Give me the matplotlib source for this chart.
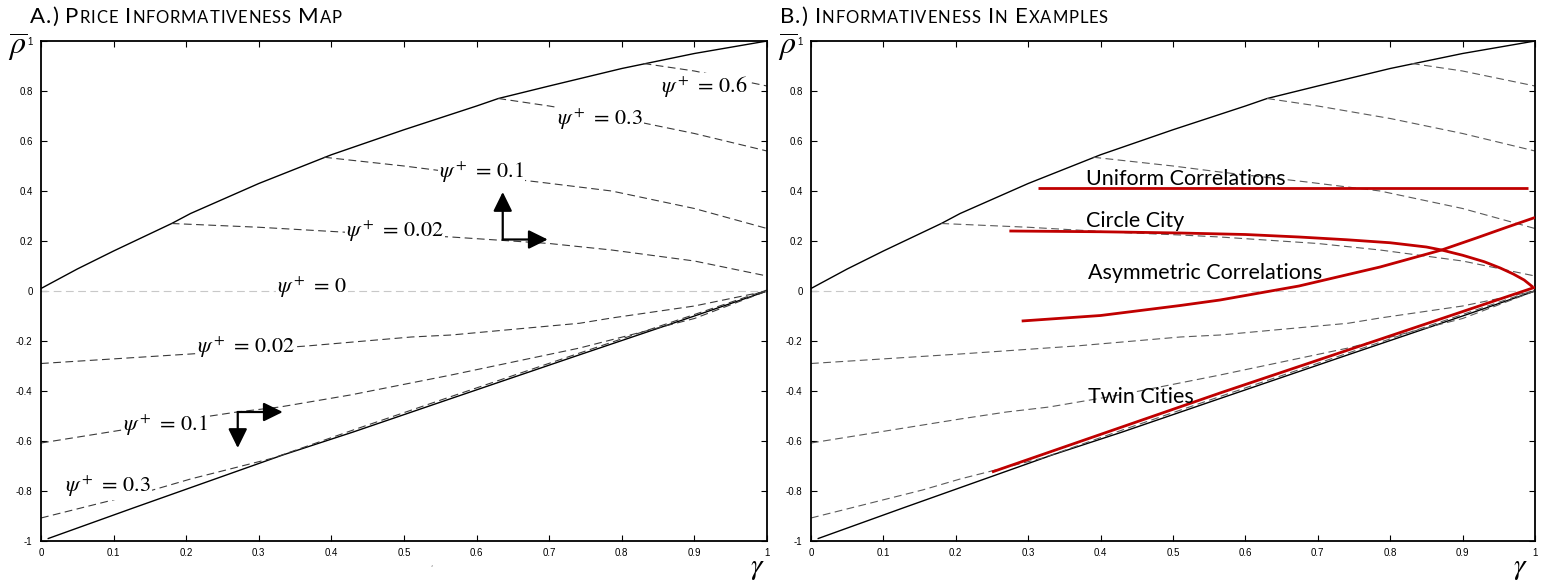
import matplotlib
matplotlib.use('Agg')
import matplotlib.pyplot as plt
from matplotlib.offsetbox import TextArea, HPacker, AnchoredOffsetbox
from matplotlib.patches import FancyArrowPatch

plt.rcParams['mathtext.fontset'] = 'stix'
plt.rcParams['axes.unicode_minus'] = False

# ---------------- data ----------------
# boundary curves (solid)
upper_x = [0.0, 0.05, 0.1, 0.18, 0.206, 0.3, 0.4, 0.5, 0.6, 0.63, 0.7, 0.8, 0.9, 1.0]
upper_y = [0.01, 0.088, 0.16, 0.27, 0.31, 0.43, 0.545, 0.645, 0.74, 0.77, 0.82, 0.89, 0.95, 1.0]
lower_x = [0.01, 0.127, 0.333, 0.43, 0.565, 0.742, 0.9, 1.0]
lower_y = [-0.99, -0.868, -0.656, -0.564, -0.43, -0.255, -0.1, 0.0]

# psi+ contours above zero (dashed)
c002u_x = [0.18, 0.3, 0.42, 0.51, 0.565, 0.7, 0.786, 0.9, 1.0]
c002u_y = [0.27, 0.255, 0.235, 0.224, 0.216, 0.19, 0.164, 0.12, 0.06]
c01u_x = [0.39, 0.5, 0.565, 0.685, 0.786, 0.9, 1.0]
c01u_y = [0.535, 0.5, 0.476, 0.436, 0.4, 0.33, 0.25]
c03u_x = [0.63, 0.7, 0.8, 0.9, 1.0]
c03u_y = [0.77, 0.74, 0.69, 0.63, 0.56]
c06u_x = [0.83, 0.9, 1.0]
c06u_y = [0.91, 0.88, 0.82]
# psi+ contours below zero (dashed)
c002l_x = [0.0, 0.206, 0.366, 0.51, 0.565, 0.742, 0.786, 0.9, 1.0]
c002l_y = [-0.29, -0.252, -0.22, -0.184, -0.176, -0.129, -0.108, -0.06, 0.0]
c01l_x = [0.0, 0.206, 0.27, 0.329, 0.426, 0.565, 0.742, 0.9, 1.0]
c01l_y = [-0.608, -0.512, -0.484, -0.464, -0.416, -0.336, -0.228, -0.11, 0.0]
c03l_x = [0.0, 0.154, 0.206, 0.32, 0.43, 0.565, 0.742, 0.9, 1.0]
c03l_y = [-0.908, -0.796, -0.752, -0.668, -0.556, -0.422, -0.248, -0.094, 0.004]
zero_x = [0.0, 1.0]
zero_y = [0.0, 0.0]

# contour labels (panel A)
label_texts = [r'$\psi^+\,=\,0.6$', r'$\psi^+\,=\,0.3$', r'$\psi^+\,=\,0.1$', r'$\psi^+\,=\,0.02$',
               r'$\psi^+\,=\,0$', r'$\psi^+\,=\,0.02$', r'$\psi^+\,=\,0.1$', r'$\psi^+\,=\,0.3$']
label_x = [0.854, 0.711, 0.548, 0.42, 0.325, 0.215, 0.113, 0.033]
label_y = [0.792, 0.664, 0.452, 0.216, -0.008, -0.248, -0.56, -0.804]

# direction arrows (panel A): corner, tip1, tip2
arrow_corner = [(0.636, 0.206), (0.271, -0.484)]
arrow_tip1 = [(0.636, 0.396), (0.333, -0.484)]
arrow_tip2 = [(0.698, 0.206), (0.271, -0.628)]

# examples (panel B, red)
uniform_x = [0.314, 0.99]
uniform_y = [0.412, 0.412]
circle_x = [0.274, 0.4, 0.51, 0.6, 0.674, 0.74, 0.8, 0.85, 0.871, 0.9, 0.93, 0.952, 0.97, 0.985, 0.997]
circle_y = [0.24, 0.237, 0.232, 0.226, 0.216, 0.205, 0.193, 0.176, 0.164, 0.143, 0.117, 0.092, 0.068, 0.044, 0.016]
asym_x = [0.291, 0.4, 0.51, 0.565, 0.674, 0.786, 0.871, 0.92, 0.96, 1.0]
asym_y = [-0.12, -0.098, -0.058, -0.036, 0.02, 0.096, 0.164, 0.213, 0.254, 0.294]
twin_x = [0.25, 0.565, 1.0]
twin_y = [-0.724, -0.408, 0.015]

example_names = ['Uniform Correlations', 'Circle City', 'Asymmetric Correlations', 'Twin Cities']
example_label_x = [0.38, 0.38, 0.382, 0.383]
example_label_y = [0.424, 0.256, 0.048, -0.448]

xticks = [0, 0.1, 0.2, 0.3, 0.4, 0.5, 0.6, 0.7, 0.8, 0.9, 1]
xticklabels = ['0', '0.1', '0.2', '0.3', '0.4', '0.5', '0.6', '0.7', '0.8', '0.9', '1']
yticks = [-1, -0.8, -0.6, -0.4, -0.2, 0, 0.2, 0.4, 0.6, 0.8, 1]
yticklabels = ['-1', '-0.8', '-0.6', '-0.4', '-0.2', '0', '0.2', '0.4', '0.6', '0.8', '1']

title_a = 'A.) Price Informativeness Map'
title_b = 'B.) Informativeness In Examples'

# ---------------- figure ----------------
W, H = 1548, 586
fig = plt.figure(figsize=(W / 100, H / 100), dpi=100)
axA = fig.add_axes([41 / W, 1 - 541 / H, 726 / W, 500 / H])
axB = fig.add_axes([811 / W, 1 - 541 / H, 724 / W, 500 / H])

DASH = (0, (7, 4))


def base(ax, dcol):
    ax.plot(upper_x, upper_y, color='black', lw=1.0)
    ax.plot(lower_x, lower_y, color='black', lw=1.0)
    ax.plot(zero_x, zero_y, color='#c8c8c8', lw=0.8, ls=DASH)
    for xs, ys in [(c002u_x, c002u_y), (c01u_x, c01u_y), (c03u_x, c03u_y), (c06u_x, c06u_y),
                   (c002l_x, c002l_y), (c01l_x, c01l_y), (c03l_x, c03l_y)]:
        ax.plot(xs, ys, color=dcol, lw=0.8, ls=DASH)
    ax.set_xlim(0, 1)
    ax.set_ylim(-1, 1)
    ax.set_xticks(xticks)
    ax.set_xticklabels(xticklabels, fontsize=7, family='Liberation Sans')
    ax.set_yticks(yticks)
    ax.set_yticklabels(yticklabels, fontsize=7, family='Liberation Sans')
    ax.tick_params(axis='both', direction='in', length=4.5, width=0.8,
                   top=True, right=True, color='black')
    ax.tick_params(axis='x', pad=5)
    ax.tick_params(axis='y', pad=6)
    for s in ax.spines.values():
        s.set_linewidth(1.3)


base(axA, '#3a3a3a')
base(axB, '#5a5a5a')

# labels panel A
for t, x, y in zip(label_texts, label_x, label_y):
    axA.text(x, y, t, fontsize=16, ha='left', va='baseline', zorder=5,
             bbox=dict(fc='white', ec='none', pad=1.0))

# arrows panel A
for c, t1, t2 in zip(arrow_corner, arrow_tip1, arrow_tip2):
    for tip in (t1, t2):
        axA.add_patch(FancyArrowPatch(c, tip, arrowstyle='-|>,head_length=0.65,head_width=0.32',
                                      mutation_scale=18, lw=1.6, color='black',
                                      shrinkA=0, shrinkB=0, zorder=6))

# panel B examples
RED = '#c00000'
for xs, ys in [(uniform_x, uniform_y), (circle_x, circle_y), (asym_x, asym_y), (twin_x, twin_y)]:
    axB.plot(xs, ys, color=RED, lw=2.0, zorder=4, solid_capstyle='butt', solid_joinstyle='round')
for t, x, y in zip(example_names, example_label_x, example_label_y):
    axB.text(x, y, t, fontsize=15.5, family='Lato', ha='left', va='baseline', zorder=5)


# titles in small caps (one box per character, slight letter spacing)
def small_caps(s, big=16.0, small=12.0):
    boxes = []
    for ch in s:
        b = not ch.islower()
        txt = ch.upper() if ch != ' ' else '\u00a0'
        boxes.append(TextArea(txt, textprops=dict(fontsize=big if b else small,
                                                  family='Lato', color='black')))
    return HPacker(children=boxes, align='baseline', pad=0, sep=0.6)


for title, x0 in [(title_a, 30), (title_b, 780)]:
    ab = AnchoredOffsetbox(loc='lower left', child=small_caps(title), frameon=False,
                           bbox_to_anchor=(x0 / W, 1 - 27 / H), bbox_transform=fig.transFigure,
                           pad=0, borderpad=0)
    fig.add_artist(ab)

# axis symbols
for x0 in (8, 778):
    fig.text(x0 / W, 1 - 64 / H, r'$\overline{\rho}$', fontsize=23, ha='left', va='bottom')
for x0 in (750, 1513):
    fig.text(x0 / W, 1 - 582 / H, r'$\gamma$', fontsize=21, ha='left', va='bottom')

fig.text(430 / W, 1 - 566 / H, ',', fontsize=5, color='#555555')

fig.savefig('out.png', dpi=100)
